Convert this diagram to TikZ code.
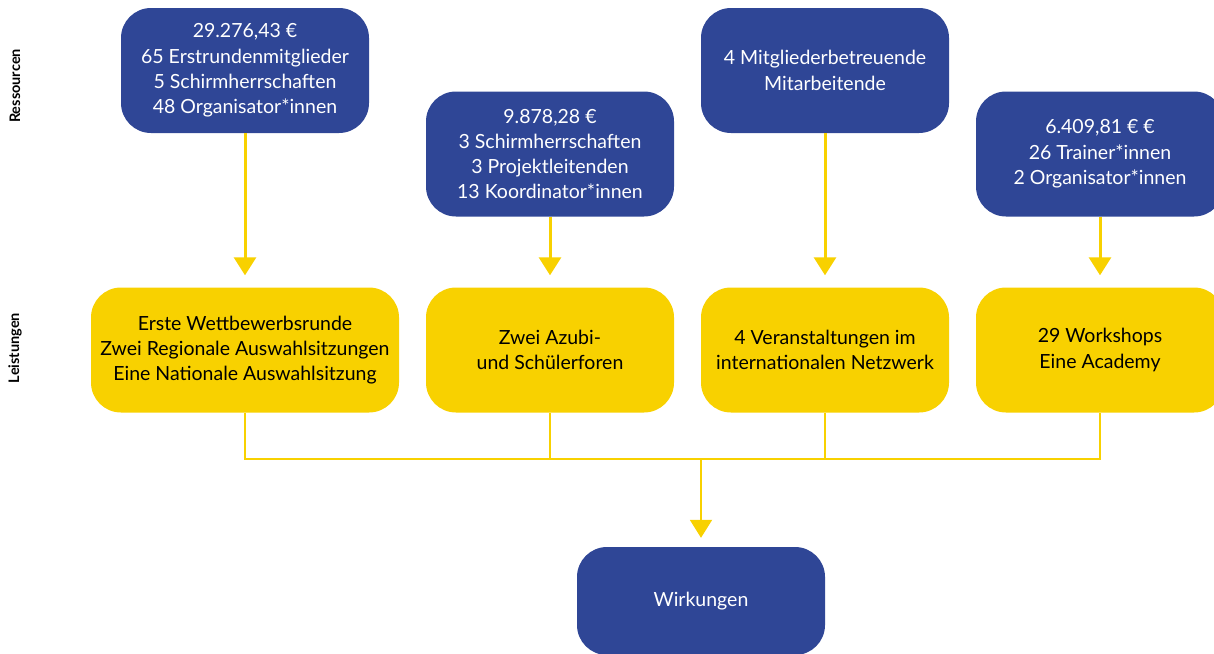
\documentclass[tikz,border=0pt]{standalone}
\usepackage{fontspec}
\setmainfont{Lato}
\usetikzlibrary{positioning, arrows.meta}
\definecolor{navy}{HTML}{2F4696}
\definecolor{gold}{HTML}{F8D100}
\tikzset{
  res/.style={rounded corners=30pt, fill=navy, text=white, minimum width=248pt,
              minimum height=125pt, align=center, inner sep=0pt,
              font=\fontsize{19.5}{25.3}\selectfont},
  leist/.style={res, fill=gold, text=black},
  pfeil/.style={-{Triangle[width=22pt, length=18pt]}, line width=3pt, draw=gold},
  linie/.style={line width=2pt, draw=gold},
  ebene/.style={rotate=90, font=\fontsize{14.5}{16}\selectfont\bfseries},
}
\begin{document}
\begin{tikzpicture}[x=1pt, y=-1pt]
  \useasboundingbox (0,0) rectangle (1214,653);
  \clip (0,0) rectangle (1214,653);
  % Ebenen
  \node[ebene] (lres) at (15,86) {Ressourcen};
  \node[ebene] (lleist) at (15,348) {Leistungen};
  % Ressourcen
  \node[res] (r1) at (245,70.5) {29.276,43 €\\65 Erstrundenmitglieder\\
                                 5 Schirmherrschaften\\48 Organisator*innen};
  \node[res] (r2) at (550,154) {9.878,28 €\\3 Schirmherrschaften\\
                                3 Projektleitenden\\13 Koordinator*innen};
  \node[res] (r3) at (825,70.5) {4 Mitgliederbetreuende\\Mitarbeitende};
  \node[res] (r4) at (1100,154) {6.409,81 € €\\26 Trainer*innen\\2 Organisator*innen};
  % Leistungen
  \node[leist, minimum width=308pt] (l1) at (245,350)
    {Erste Wettbewerbsrunde\\Zwei Regionale Auswahlsitzungen\\
     Eine Nationale Auswahlsitzung};
  \node[leist] (l2) at (550,350) {Zwei Azubi-\\und Schülerforen};
  \node[leist] (l3) at (825,350) {4 Veranstaltungen im\\internationalen Netzwerk};
  \node[leist] (l4) at (1100,350) {29 Workshops\\Eine Academy};
  % Wirkungen
  \node[res, minimum height=108pt] (w) at (701,601) {Wirkungen};
  % Pfeile
  \draw[pfeil] (r1.south) -- ([yshift=12pt]l1.north);
  \draw[pfeil] (r2.south) -- ([yshift=12pt]l2.north);
  \draw[pfeil] (r3.south) -- ([yshift=12pt]l3.north);
  \draw[pfeil] (r4.south) -- ([yshift=12pt]l4.north);
  \coordinate (knoten) at (701,459);
  \draw[linie] (l1.south) |- (knoten) -| (l4.south);
  \draw[linie] (l2.south) -- (l2.south |- knoten);
  \draw[linie] (l3.south) -- (l3.south |- knoten);
  \draw[pfeil, line width=2pt] (knoten) -- ([yshift=9pt]w.north);
\end{tikzpicture}
\end{document}
